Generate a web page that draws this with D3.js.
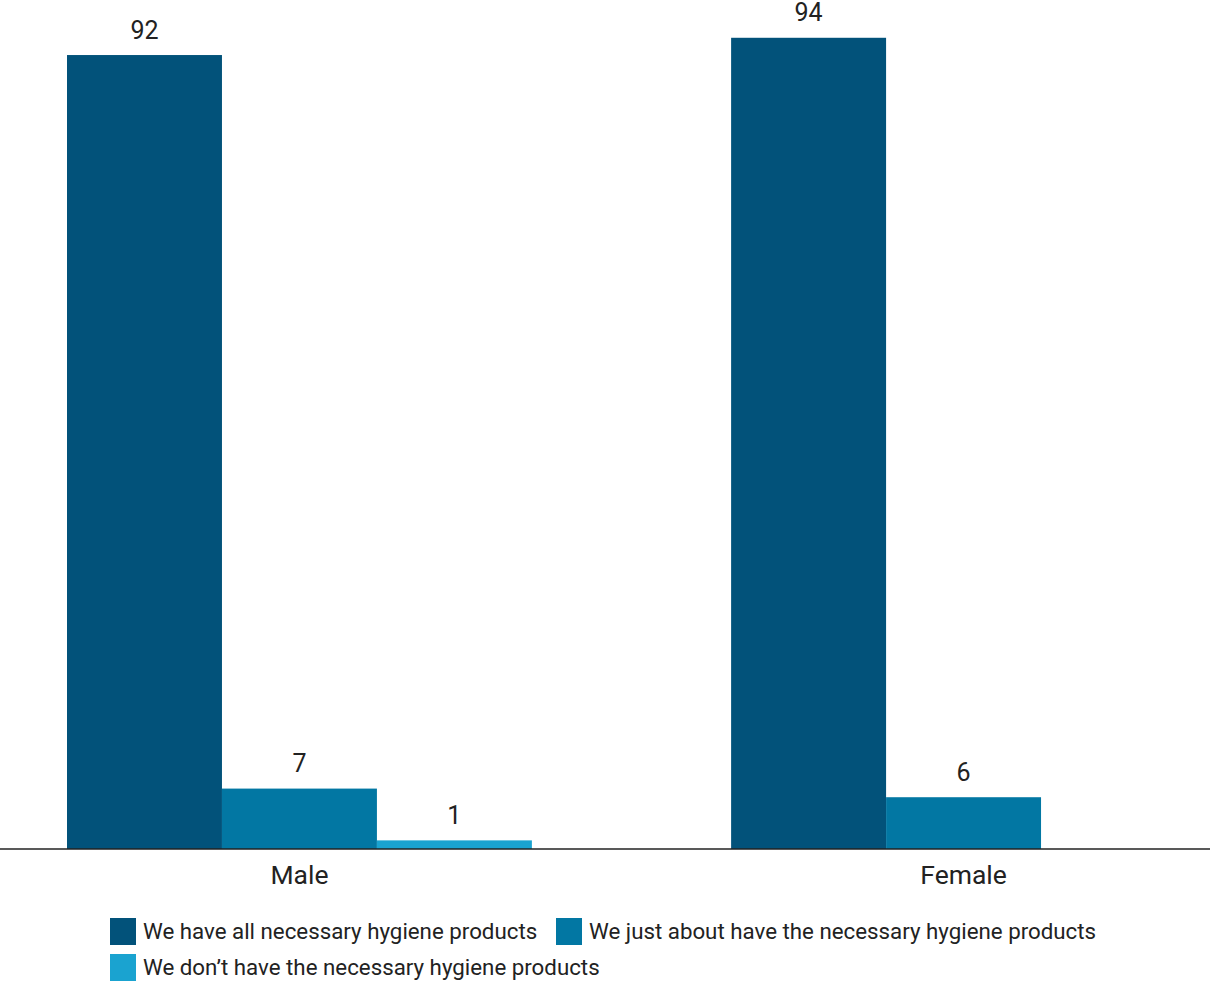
<!DOCTYPE html>
<html><head><meta charset="utf-8">
<script src="https://cdn.jsdelivr.net/npm/d3@7"></script>
<style>body{margin:0;background:#fff}svg{display:block;font-family:Roboto,sans-serif}</style>
</head><body><svg id="c" width="1210" height="989"></svg>
<script>
const categories = ["Male", "Female"];
const seriesNames = ["We have all necessary hygiene products", "We just about have the necessary hygiene products", "We don\u2019t have the necessary hygiene products"];
const seriesAll = [92, 94];
const seriesJustAbout = [7, 6];
const seriesDont = [1, null];
const colors = ["#02527A", "#0277A3", "#1AA3D0"];

const series = [seriesAll, seriesJustAbout, seriesDont];
const svg = d3.select("#c");
const baseY = 849;
const x0 = d3.scaleBand().domain(categories).range([67, 1196]).paddingInner(0.3).paddingOuter(0);
const x1 = d3.scaleBand().domain(d3.range(series.length)).range([0, x0.bandwidth()]);
const y = d3.scaleLinear().domain([0, 100]).range([baseY, baseY - 863]);

const data = [];
categories.forEach((c, ci) => series.forEach((s, si) => { if (s[ci] != null) data.push({c, si, v: s[ci]}); }));

svg.selectAll("rect.bar").data(data).join("rect").attr("class","bar")
  .attr("x", d => x0(d.c) + x1(d.si)).attr("width", x1.bandwidth())
  .attr("y", d => y(d.v)).attr("height", d => baseY - y(d.v))
  .attr("fill", d => colors[d.si]);

svg.selectAll("text.val").data(data).join("text").attr("class","val")
  .attr("x", d => x0(d.c) + x1(d.si) + x1.bandwidth()/2)
  .attr("y", d => y(d.v) - 16.5).attr("text-anchor","middle")
  .attr("font-size", 25).attr("fill", "#222").text(d => d.v);

const axis = d3.axisBottom(x0).tickSize(0).tickPadding(16);
const g = svg.append("g").attr("transform", `translate(0,${baseY})`).call(axis);
g.select(".domain").attr("d", "M0,0H1210").attr("stroke", "#222").attr("stroke-width", 1.5);
g.selectAll("text").attr("font-size", 26.5).attr("fill", "#222").attr("font-family", "Roboto,sans-serif");

const legendPos = [[110, 918], [556, 918], [110, 954]];
const lg = svg.selectAll("g.leg").data(seriesNames).join("g").attr("class","leg")
  .attr("transform", (d,i) => `translate(${legendPos[i][0]},${legendPos[i][1]})`);
lg.append("rect").attr("width", 26).attr("height", 27).attr("fill", (d,i) => colors[i]);
lg.append("text").attr("x", 33).attr("y", 21).attr("font-size", 22.3).attr("fill", "#222").text(d => d);
</script></body></html>
